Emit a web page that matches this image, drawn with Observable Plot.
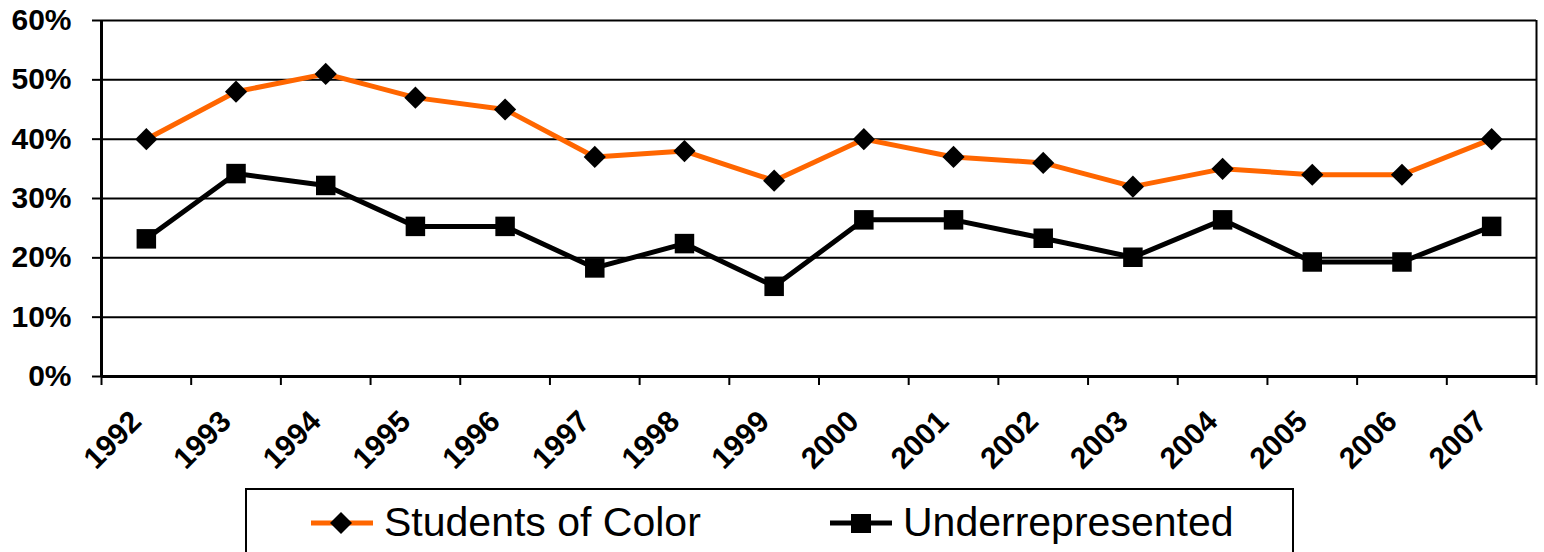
<!DOCTYPE html>
<html>
<head>
<meta charset="utf-8">
<script src="https://cdn.jsdelivr.net/npm/d3@7"></script>
<script src="https://cdn.jsdelivr.net/npm/@observablehq/plot@0.6"></script>
<style>
  html, body { margin: 0; padding: 0; background: #fff; overflow: hidden; }
  #wrap { position: relative; width: 1544px; height: 552px; font-family: "Liberation Sans", Arial, sans-serif; }
  #legend { position: absolute; left: 245px; top: 488px; width: 1049px; height: 80px; border: 2px solid #000; box-sizing: border-box; background: #fff; }
  .item { position: absolute; top: 9px; display: flex; align-items: center; font-size: 41px; color: #000; white-space: nowrap; }
  .item svg { display: block; margin-right: 11px; }
</style>
</head>
<body>
<div id="wrap"><div id="chart"></div><div id="legend"></div></div>
<script>
const years = [1992, 1993, 1994, 1995, 1996, 1997, 1998, 1999, 2000, 2001, 2002, 2003, 2004, 2005, 2006, 2007];
const studentsOfColor = [40, 48, 51, 47, 45, 37, 38, 33, 40, 37, 36, 32, 35, 34, 34, 40];
const underrepresented = [23.2, 34.2, 32.2, 25.3, 25.3, 18.3, 22.4, 15.2, 26.4, 26.4, 23.3, 20.1, 26.4, 19.3, 19.3, 25.3];
const yTicks = [0, 0.1, 0.2, 0.3, 0.4, 0.5, 0.6];
const seriesNames = ["Students of Color", "Underrepresented"];
const seriesColors = ["#FF6600", "#000000"];

const soc = years.map((year, i) => ({year, value: studentsOfColor[i] / 100}));
const und = years.map((year, i) => ({year, value: underrepresented[i] / 100}));
const boundaries = years.map(y => y - 0.5).concat([years[years.length - 1] + 0.5]);
const xDomain = [boundaries[0], boundaries[boundaries.length - 1]];

const chart = Plot.plot({
  width: 1544,
  height: 484,
  marginLeft: 101,
  marginRight: 8,
  marginTop: 20,
  marginBottom: 108,
  x: {domain: xDomain},
  y: {domain: [0, 0.6]},
  style: {fontFamily: '"Liberation Sans", Arial, sans-serif', background: "#fff", color: "#000"},
  marks: [
    Plot.gridY(yTicks, {stroke: "#000", strokeOpacity: 1, strokeWidth: 2}),
    Plot.ruleX([xDomain[1]], {stroke: "#000", strokeWidth: 2}),
    Plot.axisY(yTicks, {tickFormat: d3.format(".0%"), tickSize: 9, tickPadding: 21, fontSize: 30, fontWeight: "bold", strokeWidth: 2, label: null}),
    Plot.axisX(boundaries, {tickSize: 9, tickFormat: () => "", strokeWidth: 2, label: null}),
    Plot.axisX(years, {tickSize: 0, tickPadding: 40, tickRotate: -45, tickFormat: d => String(d), fontSize: 30, fontWeight: "bold", dx: -10, label: null}),
    Plot.ruleX([xDomain[0]], {stroke: "#000", strokeWidth: 3}),
    Plot.ruleY([0], {stroke: "#000", strokeWidth: 3}),
    Plot.line(soc, {x: "year", y: "value", stroke: seriesColors[0], strokeWidth: 5}),
    Plot.line(und, {x: "year", y: "value", stroke: seriesColors[1], strokeWidth: 5}),
    Plot.dot(soc, {x: "year", y: "value", symbol: "diamond2", r: 10, fill: "#000", stroke: "none"}),
    Plot.dot(und, {x: "year", y: "value", symbol: "square", r: 11, fill: "#000", stroke: "none"})
  ]
});
document.getElementById("chart").appendChild(chart);

const legend = document.getElementById("legend");
const itemLefts = [64, 583];
seriesNames.forEach((name, i) => {
  const it = document.createElement("div");
  it.className = "item";
  it.style.left = itemLefts[i] + "px";
  const marker = i === 0
    ? '<path d="M30,0 L41,11 L30,22 L19,11 Z" fill="#000"/>'
    : '<rect x="21" y="2" width="20" height="19" fill="#000"/>';
  it.innerHTML = `<svg width="62" height="22"><line x1="0" y1="11" x2="62" y2="11" stroke="${seriesColors[i]}" stroke-width="5"/>${marker}</svg><span>${name}</span>`;
  legend.appendChild(it);
});
</script>
</body>
</html>
